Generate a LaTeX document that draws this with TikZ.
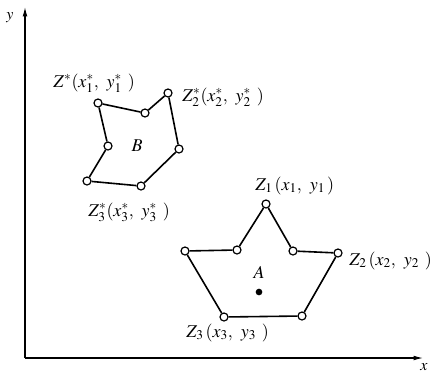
\documentclass[tikz,border=0pt]{standalone}
\usepackage{fontspec}
\setmainfont{Liberation Serif}
\usepackage{mathptmx}
\usetikzlibrary{arrows.meta}

\begin{document}
\begin{tikzpicture}[x=0.75pt, y=-0.75pt,
	vtx/.style={circle, draw, fill=white, inner sep=0pt, minimum size=6pt, line width=0.9pt},
	edge/.style={line width=1.2pt},
	axis/.style={line width=0.8pt, -{Latex[length=7pt, width=3.5pt]}},
	lbl/.style={anchor=base west, inner sep=0pt, font=\fontsize{13.5}{16}\selectfont}]

	\useasboundingbox (0, 0) rectangle (431, 375);

	% axes
	\coordinate (o) at (25, 358);
	\coordinate (xend) at (423, 358);
	\coordinate (yend) at (25, 7);
	\draw[axis] (o) -- (xend);
	\draw[axis] (o) -- (yend);
	\node[font=\large] (xlbl) at (424, 367) {$x$};
	\node[font=\large] (ylbl) at (10, 18) {$y$};

	% polygon B
	\node[vtx] (b1) at (98, 103) {};
	\node[vtx] (b2) at (145, 113) {};
	\node[vtx] (b3) at (168, 93) {};
	\node[vtx] (b4) at (179, 149) {};
	\node[vtx] (b5) at (141, 186) {};
	\node[vtx] (b6) at (87, 181) {};
	\node[vtx] (b7) at (108, 146) {};
	\draw[edge] (b1) -- (b2) -- (b3) -- (b4) -- (b5) -- (b6) -- (b7) -- (b1);
	\node[font=\fontsize{13.5}{16}\selectfont] (B) at (137, 146) {$B$};
	\node[lbl] (zs1) at (53, 87) {$Z^{*}(x^{*}_{1},\ y^{*}_{1}\ )$};
	\node[lbl] (zs2) at (182, 101) {$Z^{*}_{2}(x^{*}_{2},\ y^{*}_{2}\ )$};
	\node[lbl] (zs3) at (88, 216) {$Z^{*}_{3}(x^{*}_{3},\ y^{*}_{3}\ )$};

	% polygon A
	\node[vtx] (a1) at (266, 204) {};
	\node[vtx] (a2) at (293, 251) {};
	\node[vtx] (a3) at (338, 253) {};
	\node[vtx] (a4) at (302, 316) {};
	\node[vtx] (a5) at (224, 317) {};
	\node[vtx] (a6) at (185, 251) {};
	\node[vtx] (a7) at (237, 250) {};
	\draw[edge] (a1) -- (a2) -- (a3) -- (a4) -- (a5) -- (a6) -- (a7) -- (a1);
	\fill (259, 292) circle (2.5pt);
	\node[font=\fontsize{13.5}{16}\selectfont] (A) at (259, 272) {$A$};
	\node[lbl] (z1) at (255, 190) {$Z_{1}\,(x_{1},\ y_{1}\,)$};
	\node[lbl] (z2) at (349, 265) {$Z_{2}\,(x_{2},\ y_{2}\ )$};
	\node[lbl] (z3) at (186, 337) {$Z_{3}\,(x_{3},\ y_{3}\ )$};
	\end{tikzpicture}
\end{document}
